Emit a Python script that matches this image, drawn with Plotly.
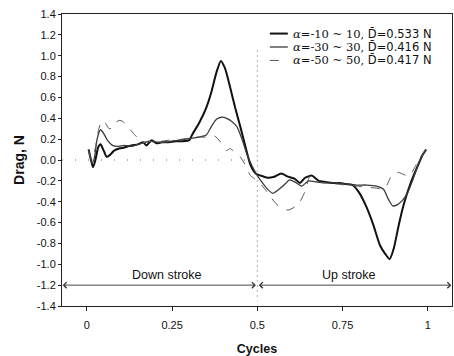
import plotly.graph_objects as go

# ---- data ----
x_a10 = [0.005, 0.012, 0.018, 0.025, 0.033, 0.040, 0.048, 0.058, 0.068, 0.080, 0.095, 0.11, 0.13, 0.15, 0.165, 0.175,
         0.19, 0.205, 0.22, 0.24, 0.26, 0.28, 0.30, 0.31, 0.33, 0.35, 0.365, 0.38, 0.393, 0.405, 0.42, 0.435, 0.45,
         0.465, 0.48, 0.495, 0.51, 0.53, 0.55, 0.57, 0.59, 0.61, 0.625, 0.64, 0.66, 0.68, 0.70, 0.72, 0.74, 0.76,
         0.78, 0.80, 0.82, 0.84, 0.86, 0.875, 0.888, 0.90, 0.915, 0.93, 0.95, 0.97, 0.985, 0.995]
y_a10 = [0.10, 0.00, -0.07, 0.00, 0.12, 0.15, 0.10, 0.03, 0.05, 0.09, 0.11, 0.12, 0.14, 0.15, 0.17, 0.14,
         0.19, 0.16, 0.17, 0.17, 0.18, 0.18, 0.19, 0.25, 0.36, 0.50, 0.65, 0.84, 0.95, 0.88, 0.70, 0.50, 0.32,
         0.13, -0.05, -0.13, -0.15, -0.17, -0.16, -0.13, -0.16, -0.18, -0.22, -0.17, -0.15, -0.20, -0.21, -0.22, -0.22, -0.23,
         -0.24, -0.32, -0.45, -0.62, -0.82, -0.90, -0.95, -0.85, -0.62, -0.42, -0.22, -0.06, 0.05, 0.10]

x_a30 = [0.005, 0.015, 0.022, 0.030, 0.040, 0.050, 0.060, 0.075, 0.09, 0.11, 0.13, 0.15, 0.17, 0.19, 0.21, 0.23,
         0.25, 0.27, 0.29, 0.31, 0.33, 0.35, 0.365, 0.38, 0.395, 0.41, 0.425, 0.44, 0.455, 0.47, 0.485, 0.50,
         0.515, 0.53, 0.545, 0.56, 0.575, 0.595, 0.61, 0.63, 0.65, 0.67, 0.70, 0.73, 0.76, 0.79, 0.82, 0.85,
         0.87, 0.885, 0.897, 0.91, 0.925, 0.94, 0.955, 0.97, 0.985, 0.995]
y_a30 = [0.10, -0.03, 0.02, 0.20, 0.29, 0.25, 0.19, 0.14, 0.13, 0.14, 0.13, 0.15, 0.17, 0.18, 0.17, 0.17,
         0.18, 0.19, 0.20, 0.21, 0.22, 0.24, 0.32, 0.39, 0.41, 0.40, 0.37, 0.32, 0.20, 0.05, -0.06, -0.15,
         -0.22, -0.28, -0.32, -0.29, -0.25, -0.19, -0.21, -0.25, -0.20, -0.21, -0.22, -0.22, -0.23, -0.24, -0.24, -0.25,
         -0.28, -0.38, -0.44, -0.43, -0.39, -0.32, -0.20, -0.06, 0.05, 0.10]

x_a50 = [0.005, 0.015, 0.025, 0.035, 0.045, 0.055, 0.065, 0.075, 0.085, 0.095, 0.105, 0.12, 0.135, 0.15, 0.165,
         0.18, 0.20, 0.22, 0.24, 0.26, 0.28, 0.30, 0.32, 0.34, 0.36, 0.375, 0.39, 0.40, 0.41, 0.42, 0.435, 0.45,
         0.465, 0.48, 0.50, 0.52, 0.54, 0.555, 0.57, 0.59, 0.61, 0.625, 0.64, 0.655, 0.665, 0.68, 0.70, 0.73,
         0.76, 0.79, 0.82, 0.85, 0.87, 0.88, 0.89, 0.90, 0.915, 0.93, 0.945, 0.96, 0.975, 0.99, 0.995]
y_a50 = [0.08, 0.00, 0.12, 0.30, 0.38, 0.35, 0.30, 0.31, 0.36, 0.38, 0.37, 0.32, 0.26, 0.21, 0.17,
         0.18, 0.17, 0.18, 0.19, 0.19, 0.20, 0.21, 0.22, 0.22, 0.22, 0.23, 0.18, 0.12, 0.09, 0.11, 0.07, 0.03,
         -0.05, -0.15, -0.20, -0.27, -0.36, -0.42, -0.46, -0.48, -0.45, -0.40, -0.30, -0.15, -0.17, -0.21, -0.22, -0.23,
         -0.24, -0.25, -0.26, -0.27, -0.28, -0.24, -0.17, -0.12, -0.12, -0.14, -0.16, -0.08, 0.01, 0.08, 0.10]

legend_labels = [
    '<span style="font-family:DejaVu Serif"><i>α</i>=-10 ~ 10, </span>D\u0304=0.533 N',
    '<span style="font-family:DejaVu Serif"><i>α</i>=-30 ~ 30, </span>D\u0304=0.416 N',
    '<span style="font-family:DejaVu Serif"><i>α</i>=-50 ~ 50, </span>D\u0304=0.417 N',
]

y_ticks = [1.4, 1.2, 1.0, 0.8, 0.6, 0.4, 0.2, 0.0, -0.2, -0.4, -0.6, -0.8, -1.0, -1.2, -1.4]
y_ticktext = ["%.1f" % v if v >= 0 else "-%.1f" % abs(v) for v in y_ticks]
x_ticks = [0, 0.25, 0.5, 0.75, 1]
x_ticktext = ["0", "0.25", "0.5", "0.75", "1"]

XR = [-0.073, 1.071]
YR = [-1.4, 1.4]
FONT = "Arial, Liberation Sans, sans-serif"

styles = [
    dict(color="#111111", width=2.0, dash="solid"),
    dict(color="#3a3a3a", width=1.3, dash="solid"),
    dict(color="#555555", width=1.0, dash="dash"),
]

fig = go.Figure()
for xs, ys, st in zip([x_a10, x_a30, x_a50], [y_a10, y_a30, y_a50], styles):
    fig.add_trace(go.Scatter(x=xs, y=ys, mode="lines", line=dict(shape="spline", smoothing=0.6, **st),
                             showlegend=False))

# zero reference dots and mid-cycle dotted line
fig.add_shape(type="line", x0=XR[0], x1=0.5, y0=0, y1=0, xref="x", yref="y",
              line=dict(color="#666666", width=1, dash="1px,12px"))
fig.add_shape(type="line", x0=0.5, x1=0.5, y0=1.05, y1=-1.35, xref="x", yref="y",
              line=dict(color="#666666", width=1, dash="1px,4px"))

# stroke arrows
for xa, xb in [(0.5, XR[0] + 0.002), (0.5, XR[1] - 0.002)]:
    fig.add_annotation(x=xb, y=-1.2, ax=xa, ay=-1.2, xref="x", yref="y", axref="x", ayref="y",
                       showarrow=True, arrowhead=4, arrowside="end+start", arrowsize=1.3,
                       arrowwidth=0.9, arrowcolor="#333333", text="")
fig.add_annotation(x=0.235, y=-1.1, text="Down stroke", showarrow=False, xref="x", yref="y",
                   font=dict(family=FONT, size=12.5, color="#111111"))
fig.add_annotation(x=0.77, y=-1.1, text="Up stroke", showarrow=False, xref="x", yref="y",
                   font=dict(family=FONT, size=12.5, color="#111111"))

# manual compact legend
leg_y = [0.933, 0.887, 0.841]
for yy, st, lab in zip(leg_y, styles, legend_labels):
    fig.add_shape(type="line", xref="paper", yref="paper", x0=0.533, x1=0.579, y0=yy, y1=yy,
                  line=dict(color=st["color"], width=st["width"], dash=st["dash"]))
    fig.add_annotation(x=0.59, y=yy, xref="paper", yref="paper", xanchor="left", yanchor="middle",
                       text=lab, showarrow=False, borderpad=0,
                       font=dict(family="DejaVu Sans, Arial, sans-serif", size=11.5, color="#111111"))

axis_common = dict(showgrid=False, zeroline=False, showline=True, linecolor="#222222", linewidth=1,
                   mirror=True, ticks="outside", tickcolor="#222222",
                   tickfont=dict(family=FONT, size=11, color="#111111"))
fig.update_xaxes(range=XR, tickvals=x_ticks, ticktext=x_ticktext, ticklen=4, ticklabelstandoff=5,
                 title=dict(text="<b>Cycles</b>", font=dict(family=FONT, size=12.5, color="#111111"), standoff=14),
                 **axis_common)
fig.update_yaxes(range=YR, tickvals=y_ticks, ticktext=y_ticktext, ticklen=3,
                 title=dict(text="<b>Drag, N</b>", font=dict(family=FONT, size=14, color="#111111"), standoff=8),
                 **axis_common)
fig.update_layout(width=454, height=356, margin=dict(l=62, r=2, t=14, b=50),
                  paper_bgcolor="white", plot_bgcolor="white")
fig.write_html("out.html")
